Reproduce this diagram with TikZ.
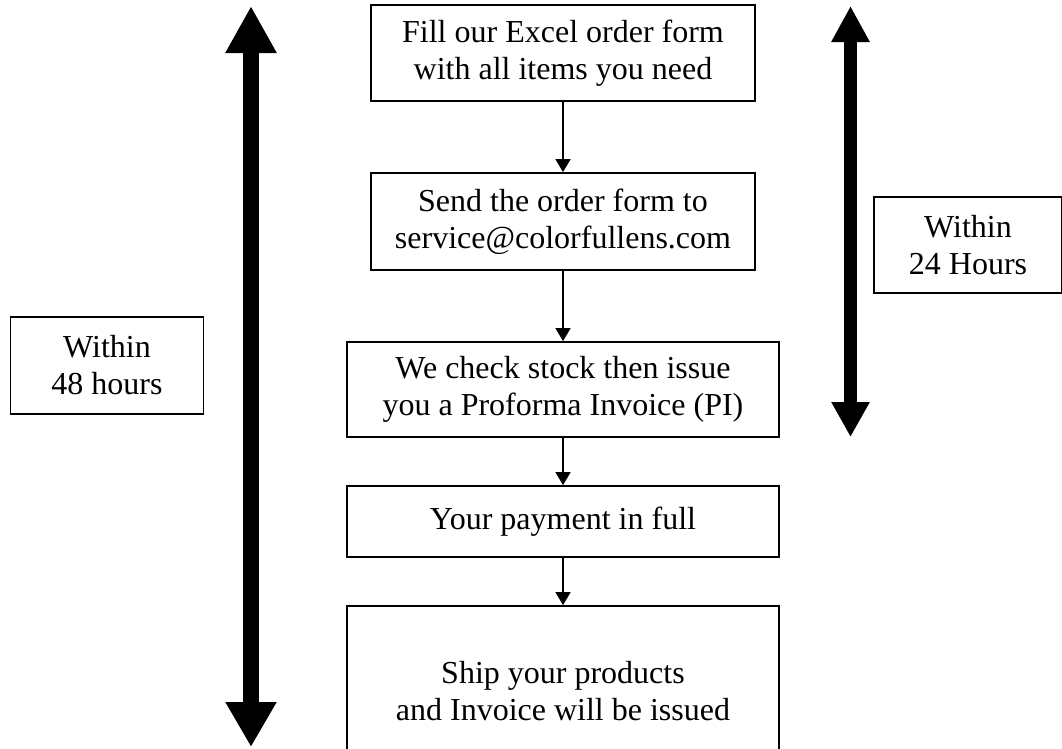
\documentclass[tikz,border=0pt]{standalone}
\usepackage{fontspec}
\setmainfont{Liberation Serif}
\usetikzlibrary{arrows.meta}
\begin{document}
\begin{tikzpicture}[x=1pt,y=-1pt,
  box/.style={draw, line width=1.8pt, align=center, inner sep=0pt,
    font=\fontsize{32}{37}\selectfont},
  flow/.style={line width=1.5pt, -{Triangle[width=15pt,length=13pt]}},
  bigarrow/.style={line width=#1pt},
]
\useasboundingbox (0,0) rectangle (1062,748);
\clip (0,0) rectangle (1062,748);
\fill[white] (0,0) rectangle (1062,748);

\node[box, minimum width=384pt, minimum height=96pt] (b1) at (563,53)
  {Fill our Excel order form\\with all items you need};
\node[box, minimum width=384pt, minimum height=97pt] (b2) at (563,221.5)
  {Send the order form to\\service@colorfullens.com};
\node[box, minimum width=432pt, minimum height=95pt] (b3) at (563,389.5)
  {We check stock then issue\\you a Proforma Invoice (PI)};
\node[box, minimum width=432pt, minimum height=71pt] (b4) at (563,521.5)
  {Your payment in full};
\node[box, minimum width=432pt, minimum height=170pt] (b5) at (563,691)
  {Ship your products\\and Invoice will be issued};

\node[box, minimum width=193pt, minimum height=97pt] (l48) at (107,365.5)
  {Within\\48 hours};
\node[box, minimum width=188pt, minimum height=96pt] (r24) at (968,245)
  {Within\\24 Hours};

\draw[flow] (b1.south) -- (b2.north);
\draw[flow] (b2.south) -- (b3.north);
\draw[flow] (b3.south) -- (b4.north);
\draw[flow] (b4.south) -- (b5.north);

\coordinate (lt) at (251,6);
\coordinate (lb) at (251,747);
\coordinate (rt) at (850.5,6);
\coordinate (rb) at (850.5,437);

\draw[line width=16pt, {Triangle[width=48pt,length=47pt]}-{Triangle[width=48pt,length=45pt]}] (lt) -- (lb);
\draw[line width=13pt, {Triangle[width=36pt,length=36pt]}-{Triangle[width=36pt,length=35pt]}] (rt) -- (rb);
\end{tikzpicture}
\end{document}
